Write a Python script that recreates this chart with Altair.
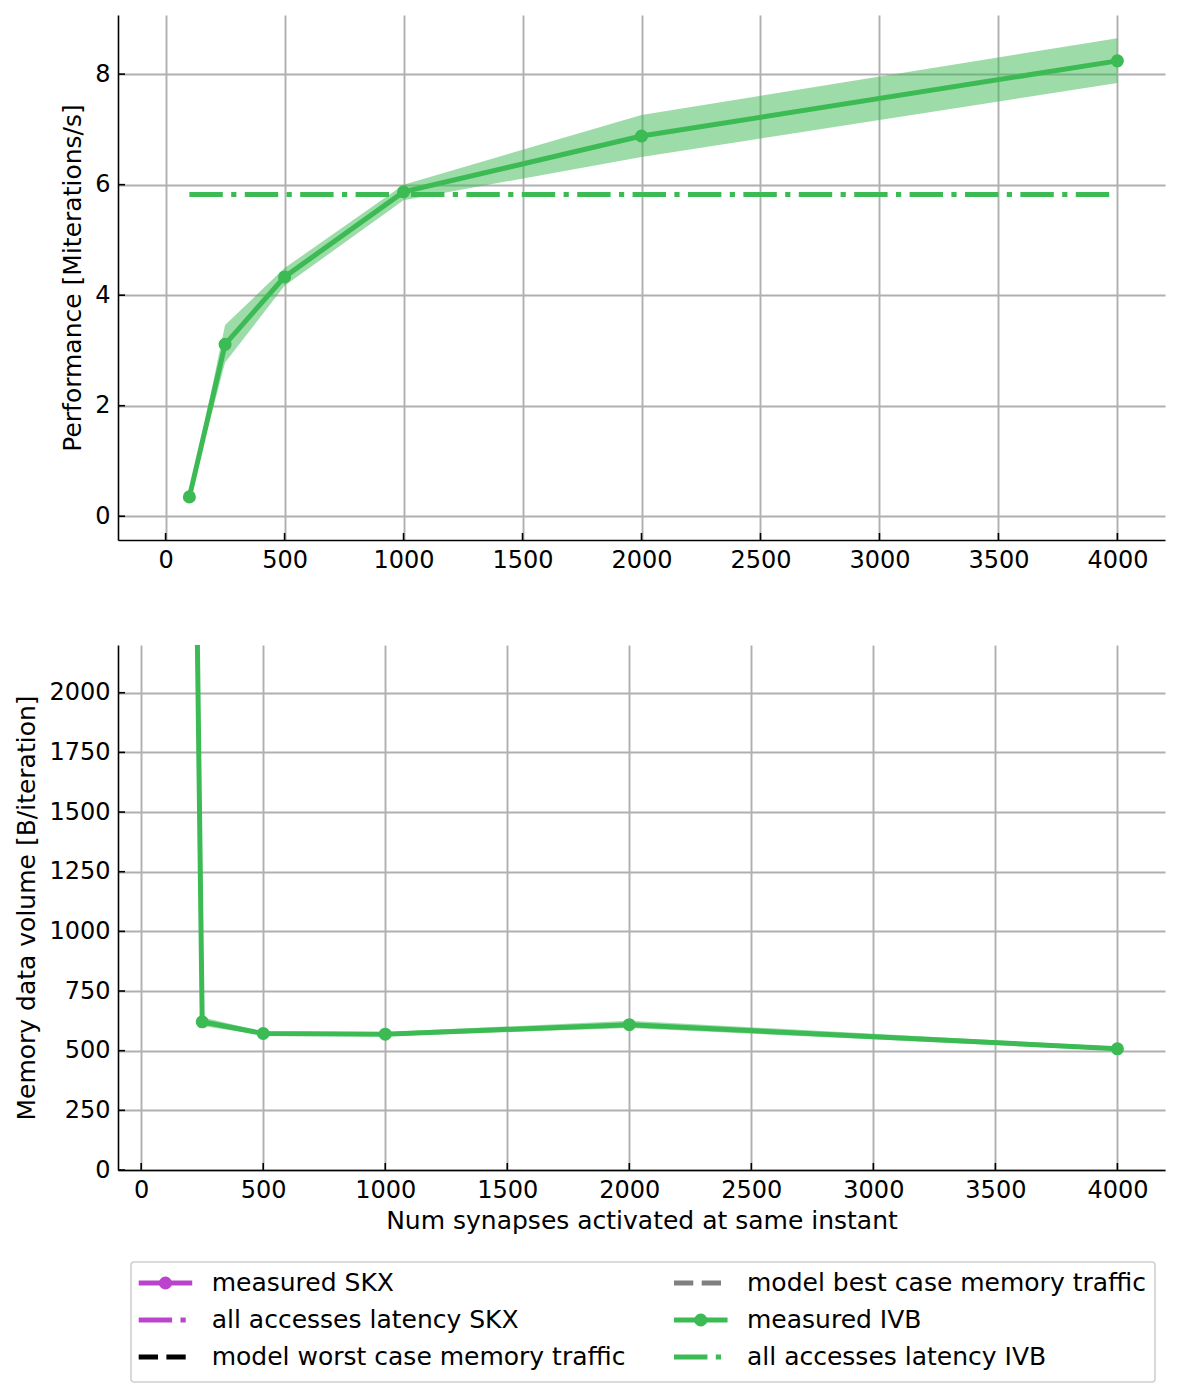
import altair as alt
import pandas as pd

# ---------------- data ----------------
synapses = [100, 250, 500, 1000, 2000, 4000]

perf_ivb = [0.35, 3.11, 4.33, 5.87, 6.88, 8.24]
perf_ivb_lo = [0.32, 2.78, 4.17, 5.72, 6.50, 7.84]
perf_ivb_hi = [0.38, 3.46, 4.49, 6.00, 7.26, 8.65]

latency_x = [100, 4000]
latency_ivb = [5.82, 5.82]

mem_ivb = [12700, 621, 572, 569, 609, 508]
mem_ivb_lo = [12300, 603, 565, 561, 595, 500]
mem_ivb_hi = [13100, 640, 580, 578, 625, 517]

x_tick_values = [0, 500, 1000, 1500, 2000, 2500, 3000, 3500, 4000]
perf_tick_values = [0, 2, 4, 6, 8]
mem_tick_values = [0, 250, 500, 750, 1000, 1250, 1500, 1750, 2000]

legend_labels = [
    "measured SKX",
    "all accesses latency SKX",
    "model worst case memory traffic",
    "model best case memory traffic",
    "measured IVB",
    "all accesses latency IVB",
]
legend_colors = ["#bb44cc", "#bb44cc", "#000000", "#808080", "#3cba54", "#3cba54"]
legend_kinds = ["measured", "latency", "model", "model", "measured", "latency"]

# ---------------- styling ----------------
GREEN = "#3cba54"
FONT = "DejaVu Sans"
FS = 24
FS_TITLE = 25
W, H = 1047, 525
LW = 5
DASHDOT = [33.4, 8.4, 5.2, 8.4]
DASHED = [19.3, 8.4]
TICK_LEN = 7

# ---------------- top panel ----------------
perf_df = pd.DataFrame({"n": synapses, "v": perf_ivb, "lo": perf_ivb_lo, "hi": perf_ivb_hi})
lat_df = pd.DataFrame({"n": latency_x, "v": latency_ivb})

xs_top = alt.Scale(domain=[-200, 4200], nice=False, zero=False)
ys_top = alt.Scale(domain=[-0.43, 9.07], nice=False, zero=False)


def X_top():
    return alt.X("n:Q", scale=xs_top,
                 axis=alt.Axis(values=x_tick_values, format="d", title=None))


def Y_top():
    return alt.Y("v:Q", scale=ys_top,
                 axis=alt.Axis(values=perf_tick_values, format="d",
                               title="Performance [Miterations/s]"))


band_top = alt.Chart(perf_df).mark_area(color=GREEN, opacity=0.5, clip=True).encode(
    x=X_top(), y=alt.Y("lo:Q", scale=ys_top), y2="hi:Q")
line_top = alt.Chart(perf_df).mark_line(color=GREEN, strokeWidth=LW, clip=True).encode(
    x=X_top(), y=Y_top())
pts_top = alt.Chart(perf_df).mark_circle(color=GREEN, size=170, opacity=1, clip=True).encode(
    x=X_top(), y=Y_top())
lat_top = alt.Chart(lat_df).mark_line(color=GREEN, strokeWidth=LW, strokeDash=DASHDOT,
                                      strokeCap="butt", clip=True).encode(x=X_top(), y=Y_top())
xt_top = alt.Chart(pd.DataFrame({"n": x_tick_values})).mark_rule(color="black", strokeWidth=1.6).encode(
    x=X_top(), y=alt.value(H), y2=alt.value(H - TICK_LEN))
yt_top = alt.Chart(pd.DataFrame({"v": perf_tick_values})).mark_rule(color="black", strokeWidth=1.6).encode(
    y=Y_top(), x=alt.value(0), x2=alt.value(TICK_LEN))

top = alt.layer(band_top, line_top, pts_top, lat_top, xt_top, yt_top).properties(width=W, height=H)

# ---------------- bottom panel ----------------
mem_df = pd.DataFrame({"n": synapses, "v": mem_ivb, "lo": mem_ivb_lo, "hi": mem_ivb_hi})

xs_bot = alt.Scale(domain=[-95, 4195], nice=False, zero=False)
ys_bot = alt.Scale(domain=[0, 2200], nice=False, zero=False)


def X_bot():
    return alt.X("n:Q", scale=xs_bot,
                 axis=alt.Axis(values=x_tick_values, format="d",
                               title="Num synapses activated at same instant"))


def Y_bot():
    return alt.Y("v:Q", scale=ys_bot,
                 axis=alt.Axis(values=mem_tick_values, format="d",
                               title="Memory data volume [B/iteration]"))


band_bot = alt.Chart(mem_df).mark_area(color=GREEN, opacity=0.5, clip=True).encode(
    x=X_bot(), y=alt.Y("lo:Q", scale=ys_bot), y2="hi:Q")
line_bot = alt.Chart(mem_df).mark_line(color=GREEN, strokeWidth=LW, clip=True).encode(
    x=X_bot(), y=Y_bot())
pts_bot = alt.Chart(mem_df).mark_circle(color=GREEN, size=170, opacity=1, clip=True).encode(
    x=X_bot(), y=Y_bot())
xt_bot = alt.Chart(pd.DataFrame({"n": x_tick_values})).mark_rule(color="black", strokeWidth=1.6).encode(
    x=X_bot(), y=alt.value(H), y2=alt.value(H - TICK_LEN))
yt_bot = alt.Chart(pd.DataFrame({"v": mem_tick_values})).mark_rule(color="black", strokeWidth=1.6).encode(
    y=Y_bot(), x=alt.value(0), x2=alt.value(TICK_LEN))

bottom = alt.layer(band_bot, line_bot, pts_bot, xt_bot, yt_bot).properties(width=W, height=H)

# ---------------- legend ----------------
HANDLE = 0.1
leg_df = pd.DataFrame({"label": legend_labels, "kind": legend_kinds})
leg_df["col"] = [i // 3 for i in range(len(legend_labels))]
leg_df["row"] = [i % 3 for i in range(len(legend_labels))]
leg_df["col_end"] = leg_df["col"] + HANDLE
leg_df["col_mid"] = leg_df["col"] + HANDLE / 2

LEG_H = 120
lx = alt.Scale(domain=[0, 1], range=[20.7, 556])
ly = alt.Scale(domain=[0, 2], range=[21, 95])
color_scale = alt.Scale(domain=legend_labels, range=legend_colors)
dash_scale = alt.Scale(domain=["measured", "latency", "model"], range=[[1, 0], DASHDOT, DASHED])

frame = alt.Chart(pd.DataFrame({"a": [0]})).mark_rect(
    fill="white", stroke="#d0d0d0", strokeWidth=1.6, cornerRadius=3).encode(
    x=alt.value(13), x2=alt.value(1037), y=alt.value(0), y2=alt.value(LEG_H))
leg_lines = alt.Chart(leg_df).mark_rule(strokeWidth=LW, strokeCap="butt").encode(
    x=alt.X("col:Q", scale=lx, axis=None), x2="col_end:Q",
    y=alt.Y("row:Q", scale=ly, axis=None),
    color=alt.Color("label:N", scale=color_scale, legend=None),
    strokeDash=alt.StrokeDash("kind:N", scale=dash_scale, legend=None))
leg_pts = alt.Chart(leg_df).transform_filter(alt.datum.kind == "measured").mark_circle(
    size=170, opacity=1).encode(
    x=alt.X("col_mid:Q", scale=lx, axis=None),
    y=alt.Y("row:Q", scale=ly, axis=None),
    color=alt.Color("label:N", scale=color_scale, legend=None))
leg_text = alt.Chart(leg_df).mark_text(align="left", baseline="middle", dx=73,
                                       font=FONT, fontSize=FS_TITLE, color="black").encode(
    x=alt.X("col:Q", scale=lx, axis=None),
    y=alt.Y("row:Q", scale=ly, axis=None),
    text="label:N")

legend = alt.layer(frame, leg_lines, leg_pts, leg_text).properties(width=W, height=LEG_H)

# ---------------- assemble ----------------
chart = alt.vconcat(
    alt.vconcat(top, bottom, spacing=73),
    legend,
    spacing=28,
).properties(
    padding={"left": 14, "top": 15, "right": 15, "bottom": 10},
    background="white",
).configure_view(stroke=None).configure_axis(
    labelFont=FONT, labelFontSize=FS, labelColor="black", labelPadding=8,
    titleFont=FONT, titleFontSize=FS_TITLE, titleColor="black", titleFontWeight="normal",
    titlePadding=9,
    domainColor="black", domainWidth=1.6,
    grid=True, gridColor="#b0b0b0", gridWidth=1.9,
    ticks=False,
).configure_axisX(titlePadding=6)

chart.save("out.html", embed_options={"renderer": "svg", "actions": False})
